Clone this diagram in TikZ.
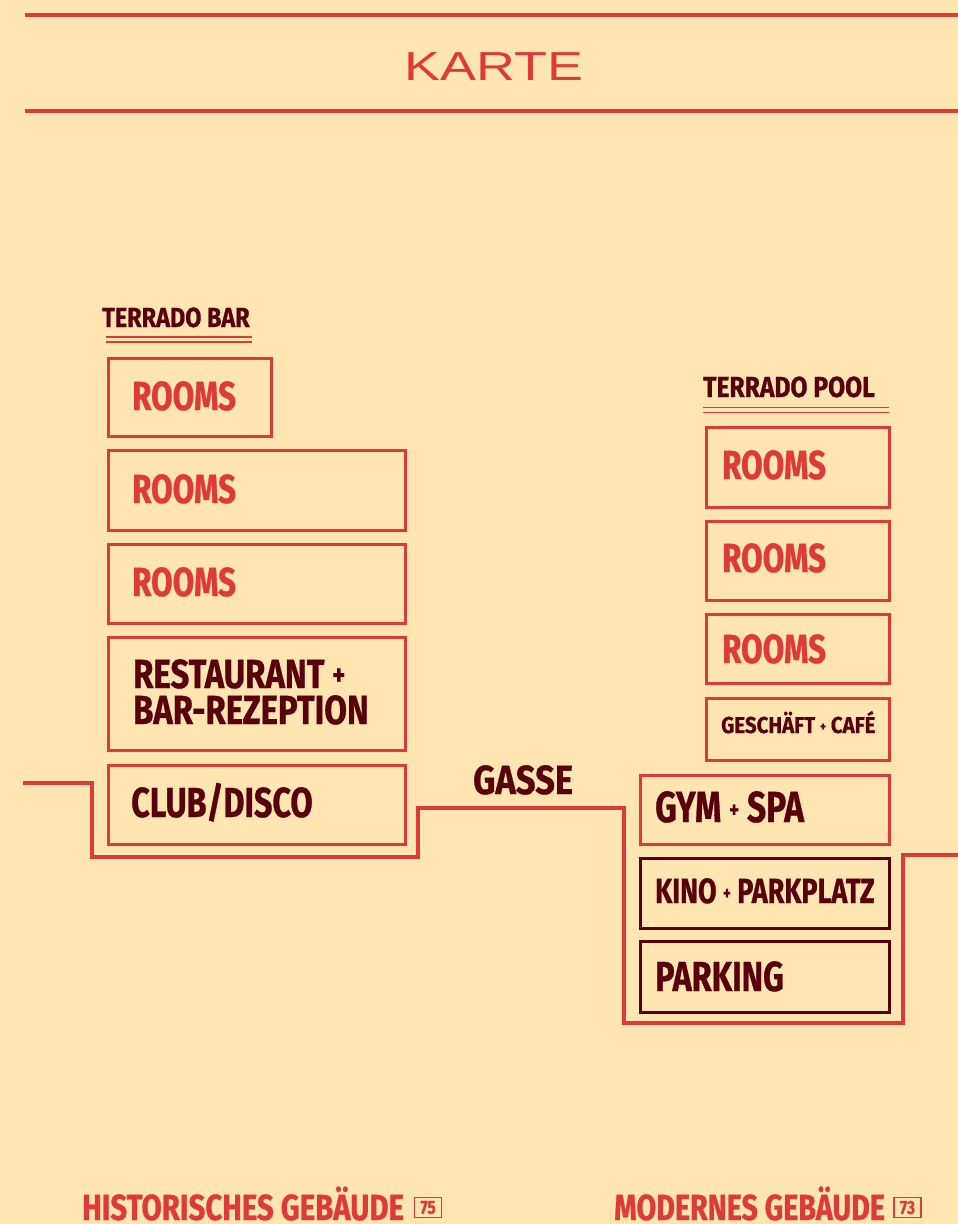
\documentclass[tikz,border=0pt]{standalone}
\usepackage{fontspec}
\newfontfamily\cond{Fira Sans}[FakeStretch=0.77,FakeBold=0.7]
\newfontfamily\condM{Fira Sans}[FakeStretch=0.79,FakeBold=0.7]
\newfontfamily\condB{Fira Sans}[FakeStretch=0.81,FakeBold=0.7]
\newfontfamily\condC{Fira Sans}[FakeStretch=0.85,FakeBold=0.7]
\newfontfamily\condD{Fira Sans}[FakeStretch=0.89,FakeBold=0.6]
\newfontfamily\kart{Liberation Sans}[FakeStretch=1.33]
\definecolor{bg}{RGB}{255,229,178}
\definecolor{rd}{RGB}{222,58,56}
\definecolor{mr}{RGB}{88,0,12}
\newcommand\pl[2][0.55]{\raisebox{#2em}{\scalebox{#1}{+}}}
\newcommand\fs[1]{\fontsize{#1}{#1}\selectfont}
\begin{document}
\begin{tikzpicture}[x=1pt,y=-1pt,
  box/.style={draw=rd, line width=3pt, inner sep=0pt, anchor=north west},
  dbox/.style={box, draw=mr},
  lab/.style={anchor=base west, inner sep=0pt, text depth=0pt, text=rd, font=\cond\bfseries\fs{40.6}},
  dlab/.style={lab, text=mr},
  ground/.style={draw=rd, line width=4.5pt, miter limit=10},
  rule/.style={draw=rd, line width=3.5pt},
  thin/.style={draw=rd, line width=1.4pt},
  numbox/.style={draw=rd, line width=1.8pt, inner sep=0pt, minimum width=27, minimum height=20, text=rd, font=\condB\bfseries\fs{19}}]
\fill[bg] (0,0) rectangle (958,1224);
\useasboundingbox (0,0) rectangle (958,1224);

% header
\draw[rule] (25,15) -- (958,15);
\draw[rule] (25,111) -- (958,111);
\node[anchor=base, inner sep=0pt, text=rd, font=\kart\fs{40.5}] (title) at (494,80) {KARTE};

% left building
\node[dlab, font=\condC\bfseries\fs{27.6}] (tbar) at (102,327) {TERRADO BAR};
\draw[thin] (106,337) -- (252,337);
\draw[thin] (106,342) -- (252,342);

\node[box, minimum width=163, minimum height=78] (l1) at (106.5,356.5) {};
\node[lab] (l1t) at (132,410) {ROOMS};
\node[box, minimum width=297, minimum height=80] (l2) at (106.5,448.5) {};
\node[lab] (l2t) at (132,503) {ROOMS};
\node[box, minimum width=297, minimum height=79] (l3) at (106.5,542.5) {};
\node[lab] (l3t) at (132,596) {ROOMS};
\node[box, minimum width=297, minimum height=113] (l4) at (106.5,635.5) {};
\node[dlab, font=\condB\bfseries\fs{40.6}] (l4a) at (133,688) {RESTAURANT \pl[0.75]{0.07}};
\node[dlab, font=\condB\bfseries\fs{40.6}] (l4b) at (133,724) {BAR-REZEPTION};
\node[box, minimum width=297, minimum height=79] (l5) at (106.5,763.5) {};
\node[dlab, font=\cond\bfseries\fs{42}] (l5t) at (131,817) {CLUB/DISCO};

\node[dlab, font=\condC\bfseries\fs{40.6}] (gasse) at (473,794) {GASSE};

% right building
\node[dlab, font=\condC\bfseries\fs{29}] (tpool) at (703,397) {TERRADO POOL};
\draw[thin] (703,407.5) -- (889,407.5);
\draw[thin] (703,412.5) -- (889,412.5);

\node[box, minimum width=183, minimum height=80] (r1) at (704.5,425.5) {};
\node[lab] (r1t) at (722,479) {ROOMS};
\node[box, minimum width=183, minimum height=79] (r2) at (704.5,519.5) {};
\node[lab] (r2t) at (722,572) {ROOMS};
\node[box, minimum width=183, minimum height=69] (r3) at (704.5,612.5) {};
\node[lab] (r3t) at (722,663) {ROOMS};
\node[box, minimum width=183, minimum height=62] (r4) at (704.5,696.5) {};
\node[dlab, font=\condD\bfseries\fs{23}] (r4t) at (721,733) {GESCHÄFT \pl{0.1} CAFÉ};
\node[box, minimum width=249, minimum height=69] (r5) at (638.5,773.5) {};
\node[dlab, font=\cond\bfseries\fs{43.5}] (r5t) at (655,822) {GYM \pl{0.1} SPA};
\node[dbox, minimum width=249, minimum height=70] (r6) at (638.5,856.5) {};
\node[dlab, font=\cond\bfseries\fs{35}] (r6t) at (655,903) {KINO \pl{0.1} PARKPLATZ};
\node[dbox, minimum width=249, minimum height=71] (r7) at (638.5,939.5) {};
\node[dlab, font=\cond\bfseries\fs{42}] (r7t) at (655,991) {PARKING};

% ground line
\draw[ground] (23,783) -- (92,783) -- (92,857) -- (418,857) -- (418,808)
  -- (624,808) -- (624,1023) -- (903,1023) -- (903,855) -- (958,855);

% bottom captions
\node[lab, font=\condB\bfseries\fs{36.3}] (hist) at (82,1220) {HISTORISCHES GEBÄUDE};
\node[numbox] (n75) at (428,1207.5) {75};
\node[lab, font=\condM\bfseries\fs{36.3}] (mod) at (614,1220) {MODERNES GEBÄUDE};
\node[numbox] (n73) at (907.5,1207.5) {73};
\end{tikzpicture}
\end{document}
